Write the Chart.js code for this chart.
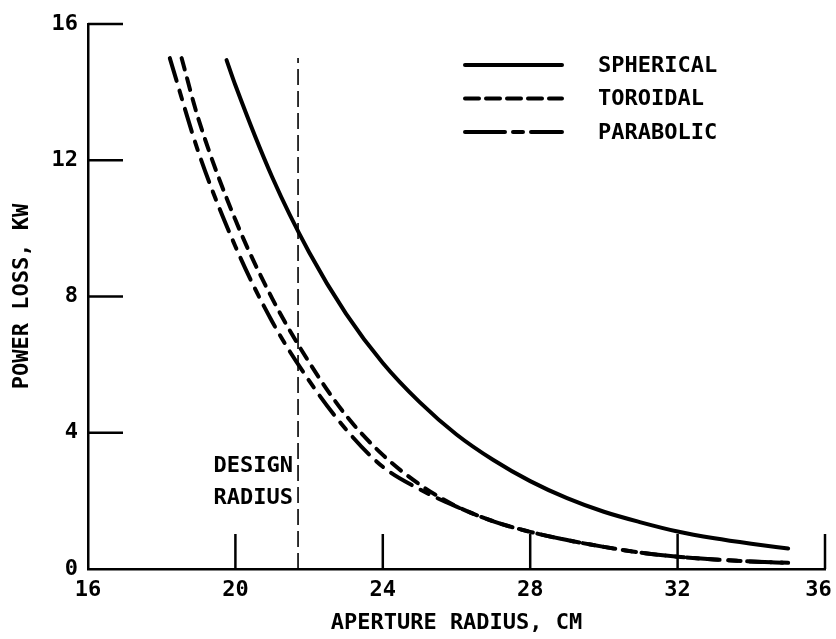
<!DOCTYPE html>
<html>
<head>
<meta charset="utf-8">
<script src="https://cdn.jsdelivr.net/npm/chart.js@4.4.1/dist/chart.umd.min.js"></script>
<style>
  html, body { margin: 0; padding: 0; background: #fff; }
  canvas { display: block; }
</style>
</head>
<body>
<canvas id="c" width="836" height="639"></canvas>
<script>
// ---- data ----
const sphericalX = [19.76, 20, 21, 22, 23, 24, 25, 26, 27, 28, 29, 30, 31, 32, 33, 34, 35];
const sphericalY = [14.94, 14.2, 11.5, 9.3, 7.5, 6.05, 4.9, 3.95, 3.2, 2.58, 2.08, 1.68, 1.37, 1.1, 0.9, 0.74, 0.6];

const toroidalX = [18.54, 19, 20, 21, 22, 23, 24, 25, 26, 27, 28, 29, 30, 31, 32, 33, 34, 35];
const toroidalY = [15.0, 13.2, 10.25, 7.94, 6.07, 4.51, 3.35, 2.48, 1.84, 1.4, 1.09, 0.85, 0.65, 0.48, 0.36, 0.28, 0.22, 0.18];

const parabolicX = [18.22, 19, 20, 21, 22, 23, 24, 25, 26, 27, 28, 29, 30, 31, 32, 33, 34, 35];
const parabolicY = [15.0, 12.23, 9.47, 7.26, 5.53, 4.1, 3.0, 2.34, 1.83, 1.4, 1.09, 0.85, 0.65, 0.48, 0.36, 0.28, 0.22, 0.18];

const designRadius = 21.7;
const designLineY = [0, 15];

const xTickLabels = [16, 20, 24, 28, 32, 36];
const yTickLabels = [0, 4, 8, 12, 16];
const xTickMarks = [20, 24, 28, 32, 36];
const yTickMarks = [4, 8, 12, 16];

const seriesNames = ['SPHERICAL', 'TOROIDAL', 'PARABOLIC'];
const designText = ['DESIGN', 'RADIUS'];
const xTitle = 'APERTURE RADIUS, CM';
const yTitle = 'POWER LOSS, KW';

// ---- chart ----
const FONT = "'DejaVu Sans Mono', monospace";
const pts = (xs, ys) => xs.map((x, i) => ({ x, y: ys[i] }));

const overlay = {
  id: 'overlay',
  afterDraw(chart) {
    const { ctx, scales: { x, y } } = chart;
    ctx.save();
    ctx.strokeStyle = '#000';
    ctx.fillStyle = '#000';
    ctx.lineWidth = 2.5;
    ctx.lineCap = 'butt';
    ctx.setLineDash([]);
    const x0 = x.getPixelForValue(16);
    const y0 = y.getPixelForValue(0);
    yTickMarks.forEach(v => {
      const py = y.getPixelForValue(v);
      ctx.beginPath(); ctx.moveTo(x0, py); ctx.lineTo(x0 + 35, py); ctx.stroke();
    });
    xTickMarks.forEach(v => {
      const px = x.getPixelForValue(v);
      ctx.beginPath(); ctx.moveTo(px, y0); ctx.lineTo(px, y0 - 35); ctx.stroke();
    });
    // design radius label
    ctx.font = 'bold 22px ' + FONT;
    ctx.textAlign = 'right';
    ctx.textBaseline = 'middle';
    const dx = x.getPixelForValue(designRadius) - 5;
    ctx.fillText(designText[0], dx, y.getPixelForValue(3.02));
    ctx.fillText(designText[1], dx, y.getPixelForValue(2.08));
    // legend
    ctx.textAlign = 'left';
    const legendSets = chart.data.datasets.filter(d => d.inLegend);
    legendSets.forEach((d, i) => {
      const ly = 65 + i * 33.5;
      ctx.lineWidth = 4;
      ctx.lineCap = 'round';
      ctx.setLineDash(d.legendDash || []);
      ctx.beginPath(); ctx.moveTo(465, ly); ctx.lineTo(562, ly); ctx.stroke();
      ctx.setLineDash([]);
      ctx.fillText(d.label, 598, ly + 1);
    });
    ctx.restore();
  }
};

const tickFont = { family: FONT, size: 22, weight: 'bold' };

new Chart(document.getElementById('c'), {
  type: 'line',
  data: {
    datasets: [
      {
        label: seriesNames[0], data: pts(sphericalX, sphericalY), inLegend: true,
        borderColor: '#000', borderWidth: 4, borderCapStyle: 'round', pointRadius: 0,
        cubicInterpolationMode: 'monotone', fill: false, legendDash: []
      },
      {
        label: seriesNames[1], data: pts(toroidalX, toroidalY), inLegend: true,
        borderColor: '#000', borderWidth: 4, borderCapStyle: 'round', pointRadius: 0,
        borderDash: [12, 9], cubicInterpolationMode: 'monotone', fill: false,
        legendDash: [14, 7]
      },
      {
        label: seriesNames[2], data: pts(parabolicX, parabolicY), inLegend: true,
        borderColor: '#000', borderWidth: 4, borderCapStyle: 'round', pointRadius: 0,
        borderDash: [24, 10, 9, 10], cubicInterpolationMode: 'monotone', fill: false,
        legendDash: [40, 8, 10, 8]
      },
      {
        label: 'design', data: designLineY.map(v => ({ x: designRadius, y: v })), inLegend: false,
        borderColor: '#000', borderWidth: 1.6, pointRadius: 0, borderDash: [16, 6], fill: false
      }
    ]
  },
  options: {
    responsive: false,
    animation: false,
    events: [],
    layout: { padding: { top: 24, right: 11, left: 0, bottom: 0 } },
    plugins: { legend: { display: false }, tooltip: { enabled: false } },
    scales: {
      x: {
        type: 'linear', min: 16, max: 36,
        afterBuildTicks: s => { s.ticks = xTickLabels.map(v => ({ value: v })); },
        afterFit: s => { s.height = 70; s.paddingLeft = 0; s.paddingRight = 0; },
        ticks: {
          color: '#000', font: tickFont, padding: 8, maxRotation: 0,
          callback: v => (v === xTickLabels[xTickLabels.length - 1] ? v + ' ' : String(v))
        },
        grid: { display: true, drawOnChartArea: false, drawTicks: false },
        border: { display: true, color: '#000', width: 2.5 },
        title: { display: true, text: xTitle, color: '#000', font: tickFont, padding: { top: 0, bottom: 3 } }
      },
      y: {
        type: 'linear', min: 0, max: 16,
        afterBuildTicks: s => { s.ticks = yTickLabels.map(v => ({ value: v })); },
        afterFit: s => { s.width = 88; },
        ticks: { color: '#000', font: tickFont, padding: 10 },
        grid: { display: true, drawOnChartArea: false, drawTicks: false },
        border: { display: true, color: '#000', width: 2.5 },
        title: { display: true, text: yTitle, color: '#000', font: tickFont, padding: { top: 9, bottom: 0 } }
      }
    }
  },
  plugins: [overlay]
});
</script>
</body>
</html>
